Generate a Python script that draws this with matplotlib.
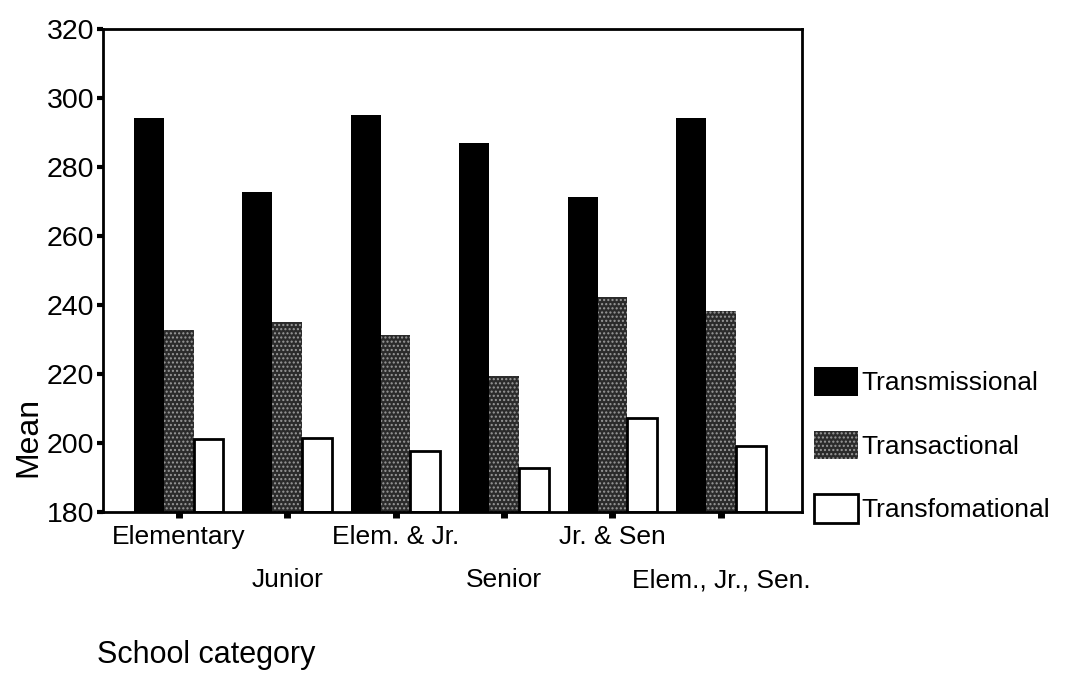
import matplotlib
matplotlib.use("Agg")
import matplotlib.pyplot as plt
import numpy as np

plt.rcParams['font.family'] = ['Liberation Sans', 'DejaVu Sans']

categories = ["Elementary", "Junior", "Elem. & Jr.", "Senior", "Jr. & Sen", "Elem., Jr., Sen."]
series_names = ["Transmissional", "Transactional", "Transfomational"]
transmissional = [294.2, 272.8, 295.0, 287.0, 271.3, 294.2]
transactional = [232.8, 235.0, 231.3, 219.4, 242.3, 238.3]
transformational = [201.2, 201.5, 197.7, 192.8, 207.2, 199.1]
yticks = [180, 200, 220, 240, 260, 280, 300, 320]

fig = plt.figure(figsize=(10.71, 6.85), dpi=100)
ax = fig.add_axes([0.096, 0.2526, 0.653, 0.705])

x = np.arange(len(categories))
w = 0.275
base = 180
b1 = ax.bar(x - w, np.array(transmissional) - base, w, bottom=base, color='black',
            edgecolor='black', linewidth=0, label=series_names[0])
b2 = ax.bar(x, np.array(transactional) - base, w, bottom=base, color='#2b2b2b',
            edgecolor='#9a9a9a', hatch='....', linewidth=0, label=series_names[1])
b3 = ax.bar(x + w, np.array(transformational) - base, w, bottom=base, color='white',
            edgecolor='black', linewidth=2, label=series_names[2])

ax.set_ylim(180, 320)
ax.set_xlim(-0.70, 5.75)
ax.set_yticks(yticks)
ax.set_yticklabels([str(v) for v in yticks], fontsize=20.5)
ax.set_xticks(x)
ax.set_xticklabels([])
ax.tick_params(axis='y', direction='out', length=4, width=3, pad=2)
ax.tick_params(axis='x', direction='out', length=4, width=5)
for s in ax.spines.values():
    s.set_linewidth(2)

for i, c in enumerate(categories):
    yy = -0.052 if i % 2 == 0 else -0.141
    ax.text(i, yy, c, transform=ax.get_xaxis_transform(), ha='center', va='center', fontsize=19)

fig.text(28 / 1071, 1 - 437 / 685, "Mean", rotation=90, ha='center', va='center', fontsize=23)
fig.text(97 / 1071, 1 - 655 / 685, "School category", ha='left', va='center', fontsize=22)

leg = fig.legend(handles=[b1, b2, b3], labels=series_names, loc='upper left',
                 bbox_to_anchor=(0.738, 0.499), frameon=False, fontsize=19,
                 handlelength=1.65, handleheight=1.3, handletextpad=0.15, labelspacing=1.32)

fig.savefig("out.png", dpi=100)
